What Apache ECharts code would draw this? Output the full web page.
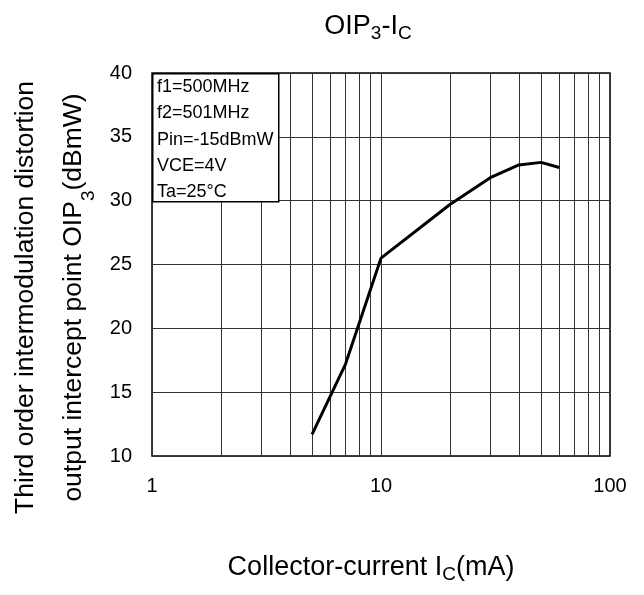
<!DOCTYPE html>
<html>
<head>
<meta charset="utf-8">
<script src="https://cdn.jsdelivr.net/npm/echarts@6/dist/echarts.min.js"></script>
<style>
html,body{margin:0;padding:0;background:#fff;}
#c{width:644px;height:595px;}
</style>
</head>
<body>
<div id="c"></div>
<script>
// Collector current Ic (mA)
var currentMA = [5, 7, 10, 20, 30, 40, 50, 60];
// OIP3 (dBmW)
var oip3 = [11.7, 17.2, 25.5, 29.7, 31.8, 32.8, 33.0, 32.6];
// log-grid minor lines (mA)
var minorGrid = [2, 3, 4, 5, 6, 7, 8, 9, 20, 30, 40, 50, 60, 70, 80, 90];
// y ticks
var yMin = 10, yMax = 40, yStep = 5;
var conditions = ['f1=500MHz', 'f2=501MHz', 'Pin=-15dBmW', 'VCE=4V', 'Ta=25°C'];

var FONT = 'Liberation Sans';
var gridColor = '#333';
var subStyle = function (lh) { return { fontSize: 19, fontFamily: FONT, color: '#000', lineHeight: lh, verticalAlign: 'bottom' }; };

var chart = echarts.init(document.getElementById('c'), null, { renderer: 'canvas' });
chart.setOption({
  backgroundColor: '#fff',
  animation: false,
  title: {
    text: 'OIP{sub|3}-I{sub|C}',
    left: 363,
    top: 6,
    textAlign: 'center',
    textStyle: {
      fontFamily: FONT, fontSize: 27, fontWeight: 'normal', color: '#000', lineHeight: 32,
      rich: { sub: subStyle(18) }
    }
  },
  grid: { left: 152, right: 34, top: 73, bottom: 139, containLabel: false, outerBoundsMode: 'none', show: true, borderColor: '#000', borderWidth: 1.5, backgroundColor: 'transparent' },
  xAxis: {
    type: 'log', logBase: 10, min: 1, max: 100,
    name: 'Collector-current I{sub|C}(mA)',
    nameLocation: 'middle', nameGap: 96,
    nameTextStyle: { fontFamily: FONT, fontSize: 27, color: '#000', lineHeight: 32, padding: [0, 20, 0, 0], rich: { sub: subStyle(18) } },
    axisLine: { show: false }, axisTick: { show: false },
    axisLabel: { fontFamily: FONT, fontSize: 20, color: '#000', margin: 20 },
    splitLine: { show: true, lineStyle: { color: gridColor, width: 1 } },
    minorSplitLine: { show: false }
  },
  yAxis: {
    type: 'value', min: yMin, max: yMax, interval: yStep,
    name: 'Third order intermodulation distortion\noutput intercept point OIP{sub|3}(dBmW)',
    nameLocation: 'middle', nameRotate: 90, nameGap: 54,
    nameTextStyle: { fontFamily: FONT, fontSize: 26.5, color: '#000', lineHeight: 48, padding: [0, 66, 0, 0], rich: { sub: subStyle(34) } },
    axisLine: { show: false }, axisTick: { show: false },
    axisLabel: { fontFamily: FONT, fontSize: 20, color: '#000', margin: 20 },
    splitLine: { show: true, lineStyle: { color: gridColor, width: 1 } }
  },
  graphic: [
    { type: 'rect', left: 152, top: 73, z: 100, shape: { width: 126, height: 128 }, style: { fill: '#fff', stroke: '#000', lineWidth: 1.5 } },
    { type: 'text', left: 157, top: 74, z: 101, style: { text: conditions.join('\n'), font: '18px "Liberation Sans"', fill: '#000', lineHeight: 26.25 } }
  ],
  series: [{
    type: 'line',
    data: currentMA.map(function (x, i) { return [x, oip3[i]]; }),
    showSymbol: false, symbol: 'none',
    lineStyle: { color: '#000', width: 3 },
    z: 5,
    markLine: {
      silent: true, symbol: 'none', label: { show: false },
      lineStyle: { color: gridColor, width: 1, type: 'solid' },
      animation: false,
      data: minorGrid.map(function (v) { return { xAxis: v }; })
    }
  }]
});
</script>
</body>
</html>
